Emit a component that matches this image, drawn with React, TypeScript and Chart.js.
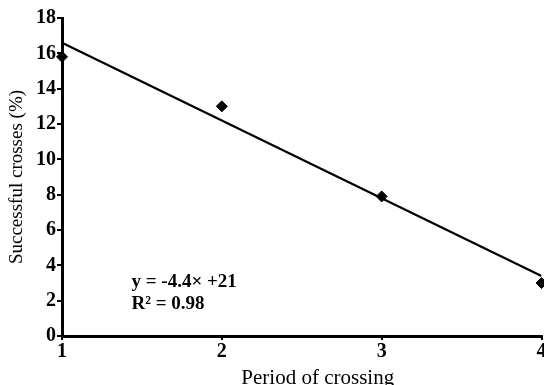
import React, { useEffect, useRef } from "react";
import { Chart, registerables } from "chart.js";

Chart.register(...registerables);

const periods = [1, 2, 3, 4];
const successRates = [15.8, 13.0, 7.9, 3.0];
const trendSlope = -4.4;
const trendIntercept = 21;
const yTicks = [0, 2, 4, 6, 8, 10, 12, 14, 16, 18];
const equationLines = ["y = -4.4\u00d7 +21", "R\u00b2 = 0.98"];
const xTitle = "Period of crossing";
const yTitle = "Successful crosses (%)";

const SERIF = '"Liberation Serif", "Times New Roman", serif';

export default function App() {
  const ref = useRef<HTMLCanvasElement | null>(null);

  useEffect(() => {
    document.body.style.margin = "0";
    document.body.style.overflow = "hidden";
    document.documentElement.style.overflow = "hidden";
    const canvas = ref.current;
    if (!canvas) return;

    const textPlugin = {
      id: "equationText",
      afterDraw(chart: any) {
        const ctx = chart.ctx;
        const xs = chart.scales.x;
        const ys = chart.scales.y;
        const px = xs.getPixelForValue(1.435);
        const py = ys.getPixelForValue(2.8);
        ctx.save();
        ctx.fillStyle = "#000";
        ctx.font = `bold 19px ${SERIF}`;
        ctx.textAlign = "left";
        ctx.textBaseline = "alphabetic";
        equationLines.forEach((t, i) => ctx.fillText(t, px, py + i * 22));
        // x-axis title, slightly right of centre as in the reference
        ctx.font = `21px ${SERIF}`;
        ctx.textAlign = "center";
        ctx.textBaseline = "middle";
        ctx.fillText(xTitle, xs.getPixelForValue(2.6), 378);
        ctx.restore();
      },
    };

    const trendData = [periods[0], periods[periods.length - 1]].map((x) => ({
      x,
      y: trendSlope * x + trendIntercept,
    }));

    const chart = new Chart(canvas, {
      type: "scatter",
      data: {
        datasets: [
          {
            type: "line",
            data: trendData,
            borderColor: "#000",
            borderWidth: 2.2,
            pointRadius: 0,
            fill: false,
          } as any,
          {
            data: periods.map((x, i) => ({ x, y: successRates[i] })),
            backgroundColor: "#000",
            borderColor: "#000",
            pointStyle: "rectRot",
            pointRadius: 5.5,
            clip: false,
          } as any,
        ],
      },
      options: {
        animation: false,
        responsive: false,
        devicePixelRatio: 1,
        layout: { padding: { top: 18, right: 3, left: 0, bottom: 0 } },
        plugins: {
          legend: { display: false },
          tooltip: { enabled: false },
        },
        scales: {
          x: {
            type: "linear",
            min: 1,
            max: 4,
            afterBuildTicks: (s: any) => {
              s.ticks = periods.map((v) => ({ value: v }));
            },
            afterFit: (s: any) => {
              s.height = 49;
            },
            grid: {
              drawOnChartArea: false,
              drawTicks: true,
              tickLength: 4,
              color: "#000",
              lineWidth: 2,
            },
            border: { color: "#000", width: 3 },
            ticks: {
              color: "#000",
              padding: 0,
              font: { family: SERIF, size: 20, weight: "bold" },
              callback: (v: any) => String(v),
            },
            title: { display: false },
          },
          y: {
            type: "linear",
            min: 0,
            max: 18,
            afterBuildTicks: (s: any) => {
              s.ticks = yTicks.map((v) => ({ value: v }));
            },
            afterFit: (s: any) => {
              s.width = 62;
            },
            grid: {
              drawOnChartArea: false,
              drawTicks: true,
              tickLength: 5,
              color: "#000",
              lineWidth: 2,
            },
            border: { color: "#000", width: 3 },
            ticks: {
              color: "#000",
              padding: 1,
              font: { family: SERIF, size: 20, weight: "bold" },
              callback: (v: any) => String(v),
            },
            title: {
              display: true,
              text: yTitle,
              color: "#000",
              font: { family: SERIF, size: 19 },
              padding: { top: 6, bottom: 0 },
            },
          },
        },
      },
      plugins: [textPlugin],
    });

    return () => chart.destroy();
  }, []);

  return (
    <div style={{ position: "absolute", left: 0, top: 0, width: 548, height: 385 }}>
      <canvas ref={ref} width={548} height={385} style={{ display: "block" }} />
    </div>
  );
}
